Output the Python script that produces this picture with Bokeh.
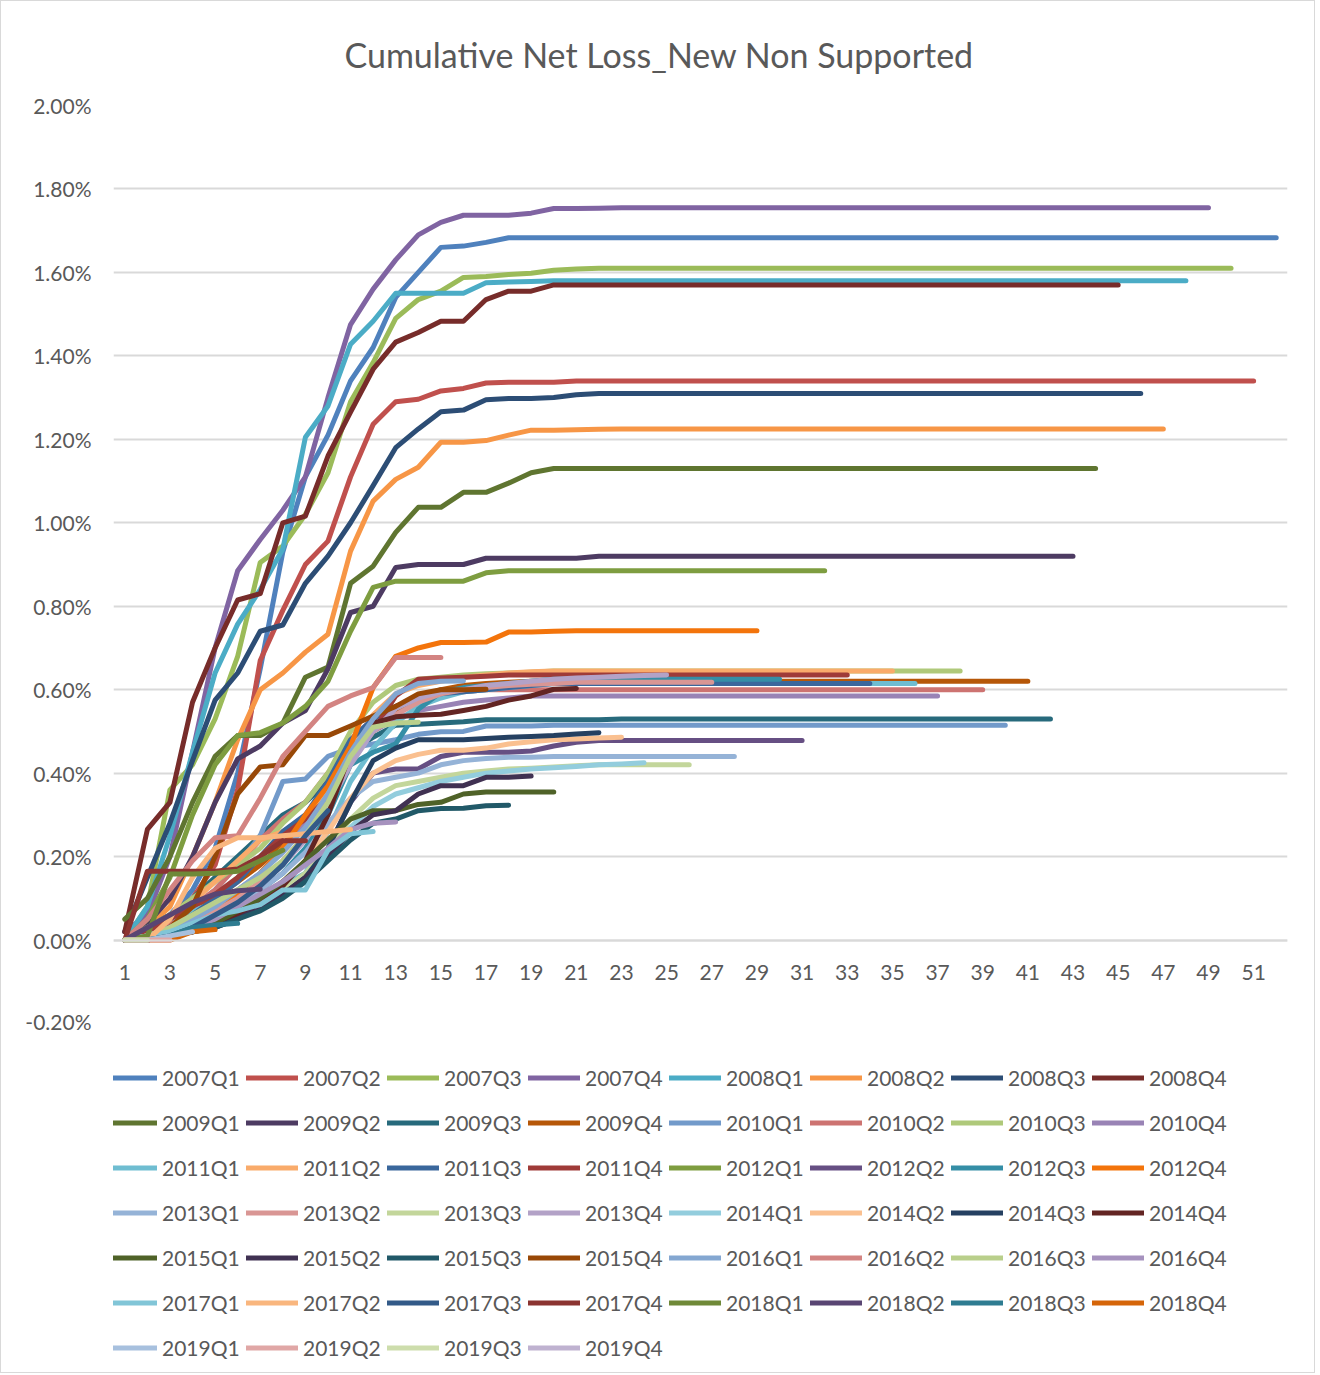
import colorsys
from bokeh.plotting import figure
from bokeh.layouts import column
from bokeh.models import (Range1d, FixedTicker, PrintfTickFormatter, Legend, LegendItem)
from bokeh.embed import file_html
from bokeh.resources import INLINE

# ---------------- data (cumulative net loss, %) ----------------
s2007Q1 = [0.000,0.020,0.060,0.120,0.220,0.400,0.650,0.930,1.110,1.210,
           1.340,1.420,1.540,1.600,1.660,1.663,1.672,1.683,1.683,1.683,
           1.683,1.683,1.683,1.683,1.683,1.683,1.683,1.683,1.683,1.683,
           1.683,1.683,1.683,1.683,1.683,1.683,1.683,1.683,1.683,1.683,
           1.683,1.683,1.683,1.683,1.683,1.683,1.683,1.683,1.683,1.683,
           1.683,1.683]
s2007Q2 = [0.000,0.030,0.060,0.100,0.180,0.360,0.670,0.790,0.900,0.956,
           1.110,1.236,1.290,1.296,1.316,1.322,1.335,1.337,1.337,1.337,
           1.340,1.340,1.340,1.340,1.340,1.340,1.340,1.340,1.340,1.340,
           1.340,1.340,1.340,1.340,1.340,1.340,1.340,1.340,1.340,1.340,
           1.340,1.340,1.340,1.340,1.340,1.340,1.340,1.340,1.340,1.340,
           1.340]
s2007Q3 = [0.000,0.080,0.360,0.420,0.530,0.680,0.905,0.944,1.020,1.120,
           1.290,1.384,1.490,1.535,1.555,1.588,1.590,1.595,1.598,1.605,
           1.608,1.610,1.610,1.610,1.610,1.610,1.610,1.610,1.610,1.610,
           1.610,1.610,1.610,1.610,1.610,1.610,1.610,1.610,1.610,1.610,
           1.610,1.610,1.610,1.610,1.610,1.610,1.610,1.610,1.610,1.610]
s2007Q4 = [0.020,0.060,0.200,0.450,0.700,0.885,0.960,1.030,1.110,1.300,
           1.475,1.560,1.630,1.690,1.720,1.737,1.737,1.737,1.742,1.753,
           1.753,1.754,1.755,1.755,1.755,1.755,1.755,1.755,1.755,1.755,
           1.755,1.755,1.755,1.755,1.755,1.755,1.755,1.755,1.755,1.755,
           1.755,1.755,1.755,1.755,1.755,1.755,1.755,1.755,1.755]
s2008Q1 = [0.000,0.080,0.250,0.450,0.640,0.757,0.840,0.937,1.205,1.280,
           1.428,1.483,1.550,1.550,1.550,1.550,1.575,1.577,1.578,1.580,
           1.580,1.580,1.580,1.580,1.580,1.580,1.580,1.580,1.580,1.580,
           1.580,1.580,1.580,1.580,1.580,1.580,1.580,1.580,1.580,1.580,
           1.580,1.580,1.580,1.580,1.580,1.580,1.580,1.580]
s2008Q2 = [0.000,0.030,0.080,0.200,0.330,0.480,0.600,0.640,0.690,0.733,
           0.932,1.052,1.104,1.133,1.193,1.193,1.197,1.210,1.222,1.222,
           1.223,1.224,1.225,1.225,1.225,1.225,1.225,1.225,1.225,1.225,
           1.225,1.225,1.225,1.225,1.225,1.225,1.225,1.225,1.225,1.225,
           1.225,1.225,1.225,1.225,1.225,1.225,1.225]
s2008Q3 = [0.020,0.150,0.280,0.430,0.575,0.640,0.740,0.755,0.855,0.920,
           1.000,1.089,1.180,1.225,1.266,1.270,1.295,1.298,1.298,1.300,
           1.307,1.310,1.310,1.310,1.310,1.310,1.310,1.310,1.310,1.310,
           1.310,1.310,1.310,1.310,1.310,1.310,1.310,1.310,1.310,1.310,
           1.310,1.310,1.310,1.310,1.310,1.310]
s2008Q4 = [0.020,0.265,0.330,0.570,0.700,0.815,0.830,1.000,1.016,1.160,
           1.265,1.368,1.433,1.456,1.483,1.483,1.535,1.555,1.555,1.570,
           1.570,1.570,1.570,1.570,1.570,1.570,1.570,1.570,1.570,1.570,
           1.570,1.570,1.570,1.570,1.570,1.570,1.570,1.570,1.570,1.570,
           1.570,1.570,1.570,1.570,1.570]
s2009Q1 = [0.050,0.100,0.200,0.330,0.440,0.490,0.490,0.520,0.630,0.654,
           0.855,0.896,0.977,1.037,1.037,1.073,1.073,1.095,1.120,1.130,
           1.130,1.130,1.130,1.130,1.130,1.130,1.130,1.130,1.130,1.130,
           1.130,1.130,1.130,1.130,1.130,1.130,1.130,1.130,1.130,1.130,
           1.130,1.130,1.130,1.130]
s2009Q2 = [0.000,0.040,0.100,0.200,0.330,0.434,0.465,0.520,0.550,0.650,
           0.785,0.800,0.893,0.900,0.900,0.900,0.915,0.915,0.915,0.915,
           0.915,0.920,0.920,0.920,0.920,0.920,0.920,0.920,0.920,0.920,
           0.920,0.920,0.920,0.920,0.920,0.920,0.920,0.920,0.920,0.920,
           0.920,0.920,0.920]
s2009Q3 = [0.000,0.030,0.060,0.100,0.150,0.200,0.250,0.300,0.330,0.380,
           0.450,0.486,0.515,0.517,0.520,0.523,0.528,0.528,0.528,0.528,
           0.528,0.528,0.530,0.530,0.530,0.530,0.530,0.530,0.530,0.530,
           0.530,0.530,0.530,0.530,0.530,0.530,0.530,0.530,0.530,0.530,
           0.530,0.530]
s2009Q4 = [0.000,0.020,0.040,0.070,0.100,0.140,0.180,0.230,0.280,0.350,
           0.430,0.500,0.550,0.580,0.600,0.610,0.615,0.618,0.620,0.620,
           0.620,0.620,0.620,0.620,0.620,0.620,0.620,0.620,0.620,0.620,
           0.620,0.620,0.620,0.620,0.620,0.620,0.620,0.620,0.620,0.620,
           0.620]
s2010Q1 = [0.000,0.020,0.050,0.080,0.120,0.180,0.250,0.380,0.386,0.440,
           0.460,0.470,0.480,0.493,0.499,0.500,0.513,0.513,0.513,0.515,
           0.515,0.515,0.515,0.515,0.515,0.515,0.515,0.515,0.515,0.515,
           0.515,0.515,0.515,0.515,0.515,0.515,0.515,0.515,0.515,0.515]
s2010Q2 = [0.000,0.020,0.040,0.080,0.120,0.180,0.240,0.290,0.330,0.400,
           0.480,0.530,0.560,0.580,0.590,0.595,0.600,0.600,0.600,0.600,
           0.600,0.600,0.600,0.600,0.600,0.600,0.600,0.600,0.600,0.600,
           0.600,0.600,0.600,0.600,0.600,0.600,0.600,0.600,0.600]
s2010Q3 = [0.000,0.030,0.060,0.100,0.140,0.180,0.220,0.280,0.330,0.400,
           0.500,0.570,0.610,0.625,0.630,0.635,0.638,0.640,0.642,0.645,
           0.645,0.645,0.645,0.645,0.645,0.645,0.645,0.645,0.645,0.645,
           0.645,0.645,0.645,0.645,0.645,0.645,0.645,0.645]
s2010Q4 = [0.000,0.010,0.030,0.060,0.090,0.120,0.160,0.220,0.280,0.360,
           0.440,0.500,0.530,0.550,0.560,0.570,0.575,0.580,0.585,0.585,
           0.585,0.585,0.585,0.585,0.585,0.585,0.585,0.585,0.585,0.585,
           0.585,0.585,0.585,0.585,0.585,0.585,0.585]
s2011Q1 = [0.000,0.020,0.050,0.070,0.090,0.100,0.110,0.130,0.160,0.260,
           0.380,0.460,0.520,0.560,0.580,0.595,0.600,0.605,0.610,0.615,
           0.615,0.615,0.615,0.615,0.615,0.615,0.615,0.615,0.615,0.615,
           0.615,0.615,0.615,0.615,0.615,0.615]
s2011Q2 = [0.000,0.020,0.050,0.090,0.140,0.190,0.240,0.260,0.290,0.360,
           0.450,0.540,0.590,0.610,0.620,0.630,0.635,0.640,0.643,0.645,
           0.645,0.645,0.645,0.645,0.645,0.645,0.645,0.645,0.645,0.645,
           0.645,0.645,0.645,0.645,0.645]
s2011Q3 = [0.000,0.010,0.030,0.060,0.100,0.140,0.200,0.260,0.300,0.380,
           0.480,0.530,0.560,0.580,0.590,0.595,0.600,0.605,0.610,0.615,
           0.615,0.615,0.615,0.615,0.615,0.615,0.615,0.615,0.615,0.615,
           0.615,0.615,0.615,0.615]
s2011Q4 = [0.000,0.020,0.050,0.080,0.110,0.150,0.200,0.250,0.290,0.340,
           0.440,0.500,0.585,0.625,0.628,0.630,0.632,0.635,0.635,0.635,
           0.635,0.635,0.635,0.635,0.635,0.635,0.635,0.635,0.635,0.635,
           0.635,0.635,0.635]
s2012Q1 = [0.000,0.050,0.150,0.300,0.420,0.490,0.497,0.520,0.560,0.620,
           0.740,0.845,0.860,0.860,0.860,0.860,0.880,0.885,0.885,0.885,
           0.885,0.885,0.885,0.885,0.885,0.885,0.885,0.885,0.885,0.885,
           0.885,0.885]
s2012Q2 = [0.000,0.010,0.020,0.040,0.060,0.080,0.100,0.120,0.150,0.220,
           0.330,0.400,0.410,0.410,0.440,0.450,0.450,0.450,0.453,0.465,
           0.474,0.478,0.478,0.478,0.478,0.478,0.478,0.478,0.478,0.478,
           0.478]
s2012Q3 = [0.000,0.010,0.020,0.040,0.060,0.090,0.120,0.160,0.220,0.300,
           0.420,0.450,0.470,0.553,0.594,0.605,0.610,0.615,0.620,0.625,
           0.625,0.625,0.625,0.625,0.625,0.625,0.625,0.625,0.625,0.625]
s2012Q4 = [0.000,0.010,0.020,0.040,0.070,0.110,0.160,0.220,0.300,0.370,
           0.465,0.605,0.680,0.700,0.713,0.713,0.714,0.738,0.738,0.740,
           0.741,0.741,0.741,0.741,0.741,0.741,0.741,0.741,0.741]
s2013Q1 = [0.000,0.010,0.020,0.040,0.060,0.090,0.120,0.160,0.210,0.280,
           0.340,0.380,0.390,0.400,0.420,0.430,0.435,0.438,0.438,0.440,
           0.440,0.440,0.440,0.440,0.440,0.440,0.440,0.440]
s2013Q2 = [0.000,0.010,0.020,0.040,0.070,0.100,0.140,0.190,0.250,0.330,
           0.430,0.500,0.540,0.570,0.590,0.600,0.605,0.610,0.613,0.615,
           0.618,0.618,0.618,0.618,0.618,0.618,0.618]
s2013Q3 = [0.000,0.010,0.020,0.030,0.050,0.070,0.090,0.120,0.160,0.220,
           0.290,0.340,0.370,0.380,0.390,0.400,0.405,0.410,0.412,0.415,
           0.418,0.420,0.420,0.420,0.420,0.420]
s2013Q4 = [0.000,0.010,0.020,0.040,0.060,0.090,0.130,0.180,0.240,0.320,
           0.420,0.500,0.555,0.580,0.595,0.600,0.610,0.615,0.620,0.625,
           0.628,0.630,0.632,0.634,0.635]
s2014Q1 = [0.000,0.010,0.020,0.030,0.050,0.070,0.090,0.110,0.140,0.200,
           0.270,0.320,0.350,0.365,0.380,0.390,0.400,0.405,0.410,0.413,
           0.416,0.420,0.422,0.425]
s2014Q2 = [0.000,0.000,0.010,0.020,0.040,0.070,0.100,0.140,0.190,0.260,
           0.340,0.400,0.430,0.445,0.455,0.455,0.460,0.470,0.475,0.480,
           0.482,0.484,0.486]
s2014Q3 = [0.000,0.000,0.010,0.020,0.040,0.060,0.080,0.110,0.150,0.220,
           0.330,0.430,0.460,0.480,0.480,0.480,0.483,0.486,0.488,0.490,
           0.494,0.497]
s2014Q4 = [0.000,0.000,0.010,0.020,0.040,0.060,0.090,0.130,0.190,0.300,
           0.450,0.520,0.535,0.539,0.541,0.550,0.560,0.575,0.585,0.601,
           0.603]
s2015Q1 = [0.000,0.000,0.010,0.020,0.040,0.070,0.100,0.140,0.190,0.240,
           0.290,0.310,0.310,0.325,0.330,0.350,0.355,0.355,0.355,0.355]
s2015Q2 = [0.000,0.000,0.010,0.020,0.030,0.050,0.080,0.110,0.150,0.200,
           0.260,0.300,0.310,0.350,0.370,0.370,0.390,0.390,0.393]
s2015Q3 = [0.000,0.000,0.010,0.020,0.030,0.050,0.070,0.100,0.140,0.190,
           0.240,0.280,0.290,0.310,0.315,0.316,0.322,0.323]
s2015Q4 = [0.000,0.010,0.030,0.080,0.200,0.350,0.415,0.420,0.490,0.490,
           0.513,0.537,0.560,0.590,0.600,0.600,0.601]
s2016Q1 = [0.000,0.010,0.030,0.050,0.080,0.120,0.160,0.210,0.270,0.350,
           0.450,0.530,0.590,0.615,0.620,0.621]
s2016Q2 = [0.000,0.050,0.120,0.190,0.245,0.250,0.340,0.440,0.500,0.560,
           0.585,0.605,0.677,0.677,0.677]
s2016Q3 = [0.000,0.010,0.030,0.060,0.090,0.120,0.150,0.190,0.250,0.330,
           0.440,0.510,0.520,0.522]
s2016Q4 = [0.000,0.000,0.010,0.030,0.050,0.080,0.110,0.140,0.180,0.220,
           0.265,0.280,0.283]
s2017Q1 = [0.000,0.010,0.020,0.040,0.060,0.070,0.085,0.120,0.120,0.215,
           0.255,0.260]
s2017Q2 = [0.000,0.000,0.050,0.150,0.220,0.245,0.245,0.250,0.255,0.260,
           0.265]
s2017Q3 = [0.000,0.000,0.010,0.030,0.060,0.090,0.130,0.180,0.250,0.310]
s2017Q4 = [0.000,0.165,0.165,0.165,0.165,0.170,0.200,0.238,0.238]
s2018Q1 = [0.000,0.010,0.158,0.158,0.160,0.165,0.190,0.215]
s2018Q2 = [0.000,0.030,0.060,0.090,0.110,0.118,0.122]
s2018Q3 = [0.000,0.000,0.010,0.030,0.036,0.040]
s2018Q4 = [0.000,0.000,0.000,0.020,0.025]
s2019Q1 = [0.000,0.000,0.010,0.020]
s2019Q2 = [0.000,0.000,0.000]
s2019Q3 = [0.000,0.000]
s2019Q4 = [0.000]

series_names = ["2007Q1","2007Q2","2007Q3","2007Q4","2008Q1","2008Q2","2008Q3","2008Q4",
                "2009Q1","2009Q2","2009Q3","2009Q4","2010Q1","2010Q2","2010Q3","2010Q4",
                "2011Q1","2011Q2","2011Q3","2011Q4","2012Q1","2012Q2","2012Q3","2012Q4",
                "2013Q1","2013Q2","2013Q3","2013Q4","2014Q1","2014Q2","2014Q3","2014Q4",
                "2015Q1","2015Q2","2015Q3","2015Q4","2016Q1","2016Q2","2016Q3","2016Q4",
                "2017Q1","2017Q2","2017Q3","2017Q4","2018Q1","2018Q2","2018Q3","2018Q4",
                "2019Q1","2019Q2","2019Q3","2019Q4"]
series_values = [s2007Q1,s2007Q2,s2007Q3,s2007Q4,s2008Q1,s2008Q2,s2008Q3,s2008Q4,
                 s2009Q1,s2009Q2,s2009Q3,s2009Q4,s2010Q1,s2010Q2,s2010Q3,s2010Q4,
                 s2011Q1,s2011Q2,s2011Q3,s2011Q4,s2012Q1,s2012Q2,s2012Q3,s2012Q4,
                 s2013Q1,s2013Q2,s2013Q3,s2013Q4,s2014Q1,s2014Q2,s2014Q3,s2014Q4,
                 s2015Q1,s2015Q2,s2015Q3,s2015Q4,s2016Q1,s2016Q2,s2016Q3,s2016Q4,
                 s2017Q1,s2017Q2,s2017Q3,s2017Q4,s2018Q1,s2018Q2,s2018Q3,s2018Q4,
                 s2019Q1,s2019Q2,s2019Q3,s2019Q4]
x_tick_labels = [1,3,5,7,9,11,13,15,17,19,21,23,25,27,29,31,33,35,37,39,41,43,45,47,49,51]
y_ticks = [-0.2,0.0,0.2,0.4,0.6,0.8,1.0,1.2,1.4,1.6,1.8,2.0]

# ---------------- colours: Office 2007 accents with Excel lum variations ----------------
accents = ["#4F81BD","#C0504D","#9BBB59","#8064A2","#4BACC6","#F79646"]
lum_steps = [(1.0,0.0),(0.6,0.0),(0.8,0.2),(0.8,0.0),(0.6,0.4),(0.5,0.0),(0.7,0.3),(0.7,0.0),(0.5,0.5)]

def excel_lum(hexc, mod, off):
    r, g, b = [int(hexc[i:i+2], 16) / 255 for i in (1, 3, 5)]
    h, l, s = colorsys.rgb_to_hls(r, g, b)
    l = min(1.0, l * mod + off)
    r, g, b = colorsys.hls_to_rgb(h, l, s)
    return "#%02x%02x%02x" % tuple(int(round(c * 255)) for c in (r, g, b))

colors = []
for i in range(len(series_names)):
    mod, off = lum_steps[i // 6]
    colors.append(excel_lum(accents[i % 6], mod, off))

FONT = "Lato"
GREY = "#595959"
LW = 5

# ---------------- main chart ----------------
p = figure(width=1313, height=1032,
           x_range=Range1d(0.5, 52.5), y_range=Range1d(-0.2, 2.0),
           output_backend="svg", toolbar_location=None,
           min_border_left=112, min_border_right=27,
           min_border_top=104, min_border_bottom=10)
p.outline_line_color = None
p.background_fill_color = "white"
p.border_fill_color = "white"

p.title.text = "Cumulative Net Loss_New Non Supported"
p.title.text_font = FONT
p.title.text_font_size = "34px"
p.title.text_font_style = "normal"
p.title.text_color = GREY
p.title.align = "left"
p.title.offset = 231
p.title.standoff = 61

p.yaxis.ticker = FixedTicker(ticks=y_ticks)
p.yaxis.formatter = PrintfTickFormatter(format="%.2f%%")
p.yaxis.axis_line_color = None
p.yaxis.major_tick_line_color = None
p.yaxis.minor_tick_line_color = None
p.yaxis.major_tick_out = 0
p.yaxis.major_tick_in = 0
p.yaxis.major_label_standoff = 22
p.yaxis.major_label_text_font = FONT
p.yaxis.major_label_text_font_size = "21px"
p.yaxis.major_label_text_color = GREY

p.xaxis.ticker = FixedTicker(ticks=x_tick_labels)
p.xaxis.fixed_location = 0
p.xaxis.axis_line_color = "#D9D9D9"
p.xaxis.axis_line_width = 1.8
p.xaxis.major_tick_line_color = None
p.xaxis.minor_tick_line_color = None
p.xaxis.major_tick_out = 0
p.xaxis.major_tick_in = 0
p.xaxis.major_label_standoff = 25
p.xaxis.major_label_text_font = FONT
p.xaxis.major_label_text_font_size = "21px"
p.xaxis.major_label_text_color = GREY

p.xgrid.visible = False
p.ygrid.grid_line_color = "#D9D9D9"
p.ygrid.grid_line_width = 1.8

for vals, col in zip(series_values, colors):
    xs = list(range(1, len(vals) + 1))
    p.line(xs, vals, line_color=col, line_width=LW, line_join="round", line_cap="round")

# ---------------- legend strip ----------------
q = figure(width=1313, height=339, x_range=Range1d(0.5, 52.5), y_range=Range1d(0, 1),
           output_backend="svg", toolbar_location=None,
           x_axis_type=None, y_axis_type=None,
           min_border=0, min_border_left=0, min_border_right=0,
           min_border_top=0, min_border_bottom=0)
q.outline_line_color = None
q.grid.visible = False
q.background_fill_color = "white"
q.border_fill_color = "white"

items = []
for name, vals, col in zip(series_names, series_values, colors):
    # one-point line: draws nothing in the strip, only provides the legend swatch
    r = q.line([1], [vals[0]], line_color=col, line_width=LW, line_cap="round")
    items.append(LegendItem(label=name, renderers=[r]))

legend = Legend(items=items, location=(-8, 5), orientation="horizontal", ncols=8,
                glyph_width=52, glyph_height=39, label_standoff=5, label_width=78,
                spacing=6, padding=0, margin=0,
                border_line_color=None, background_fill_alpha=0,
                label_text_font=FONT, label_text_font_size="21px",
                label_text_color=GREY)
q.add_layout(legend, "center")

layout = column(p, q, spacing=0, styles={"border": "1px solid #D9D9D9"})
open("out.html", "w").write(file_html(layout, INLINE))
